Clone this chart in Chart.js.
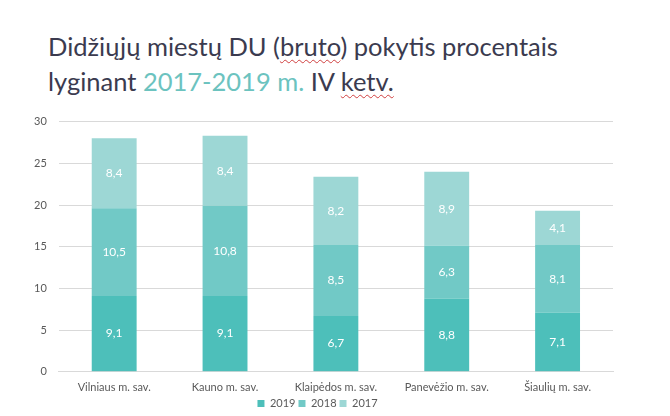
<!DOCTYPE html>
<html>
<head>
<meta charset="utf-8">
<script src="https://cdn.jsdelivr.net/npm/chart.js@4.4.1/dist/chart.umd.min.js"></script>
<style>
  html, body { margin: 0; padding: 0; background: #fff; }
  body { width: 670px; height: 416px; position: relative; overflow: hidden; font-family: Lato, "Open Sans", sans-serif; }
  #title { position: absolute; left: 48px; top: 29px; font-size: 25.5px; line-height: 35px; color: #3b3b4f; white-space: nowrap; }
  #title .teal { color: #6cc3bf; }
  #title .spell { text-decoration: underline wavy #d04040; text-decoration-thickness: 1px; text-underline-offset: 3px; }
  #wrap { position: absolute; left: 0; top: 103px; width: 670px; height: 316px; }
</style>
</head>
<body>
<div id="title">Didžiųjų miestų DU (<span class="spell">bruto</span>) pokytis procentais<br>lyginant <span class="teal">2017-2019 m.</span> IV <span class="spell">ketv.</span></div>
<div id="wrap"><canvas id="chart"></canvas></div>
<script>
'use strict';

// [ Data ]
var cities = ["Vilniaus m. sav.", "Kauno m. sav.", "Klaipėdos m. sav.", "Panevėžio m. sav.", "Šiaulių m. sav."];
var years = ["2019", "2018", "2017"];
var v2019 = [9.1, 9.1, 6.7, 8.8, 7.1];
var v2018 = [10.5, 10.8, 8.5, 6.3, 8.1];
var v2017 = [8.4, 8.4, 8.2, 8.9, 4.1];
var yTicks = [0, 5, 10, 15, 20, 25, 30];
var colors = ['#4dbfba', '#71c9c6', '#9dd7d5'];

// white value labels in the middle of each segment
var barLabels = {
    id: 'barLabels',
    afterDatasetsDraw: function(chart) {
        var ctx = chart.ctx;
        ctx.save();
        ctx.fillStyle = '#ffffff';
        ctx.font = '12px Lato, "Open Sans", sans-serif';
        ctx.textAlign = 'center';
        ctx.textBaseline = 'middle';
        chart.data.datasets.forEach(function(ds, i) {
            chart.getDatasetMeta(i).data.forEach(function(bar, j) {
                var mid = (bar.y + bar.base) / 2;
                ctx.fillText(String(ds.data[j]).replace('.', ','), bar.x, mid);
            });
        });
        ctx.restore();
    }
};

var ctx = document.getElementById('chart').getContext('2d');
var myChart = new Chart(ctx, {
    type: 'bar',
    data: {
        labels: cities,
        datasets: [
            { label: years[0], data: v2019, backgroundColor: colors[0] },
            { label: years[1], data: v2018, backgroundColor: colors[1] },
            { label: years[2], data: v2017, backgroundColor: colors[2] }
        ]
    },
    plugins: [barLabels],
    options: {
        responsive: true,
        maintainAspectRatio: false,
        animation: false,
        layout: { padding: { left: 22, right: 57, top: 2, bottom: 0 } },
        datasets: { bar: { barPercentage: 0.405, categoryPercentage: 1 } },
        plugins: {
            legend: {
                position: 'bottom',
                labels: {
                    boxWidth: 7, boxHeight: 7, padding: 3,
                    color: '#595959',
                    font: { family: 'Lato, "Open Sans", sans-serif', size: 11 }
                }
            },
            tooltip: { enabled: false }
        },
        scales: {
            x: {
                stacked: true,
                grid: { display: false },
                border: { color: '#d9d9d9' },
                ticks: { color: '#595959', font: { family: 'Lato, "Open Sans", sans-serif', size: 11 }, maxRotation: 0, padding: 1 }
            },
            y: {
                stacked: true,
                min: 0, max: 30,
                afterBuildTicks: function(axis) { axis.ticks = yTicks.map(function(v) { return { value: v }; }); },
                grid: { color: '#d9d9d9', drawTicks: false },
                border: { display: false },
                ticks: { color: '#595959', font: { family: 'Lato, "Open Sans", sans-serif', size: 11 }, padding: 12 }
            }
        }
    }
});
</script>
</body>
</html>
